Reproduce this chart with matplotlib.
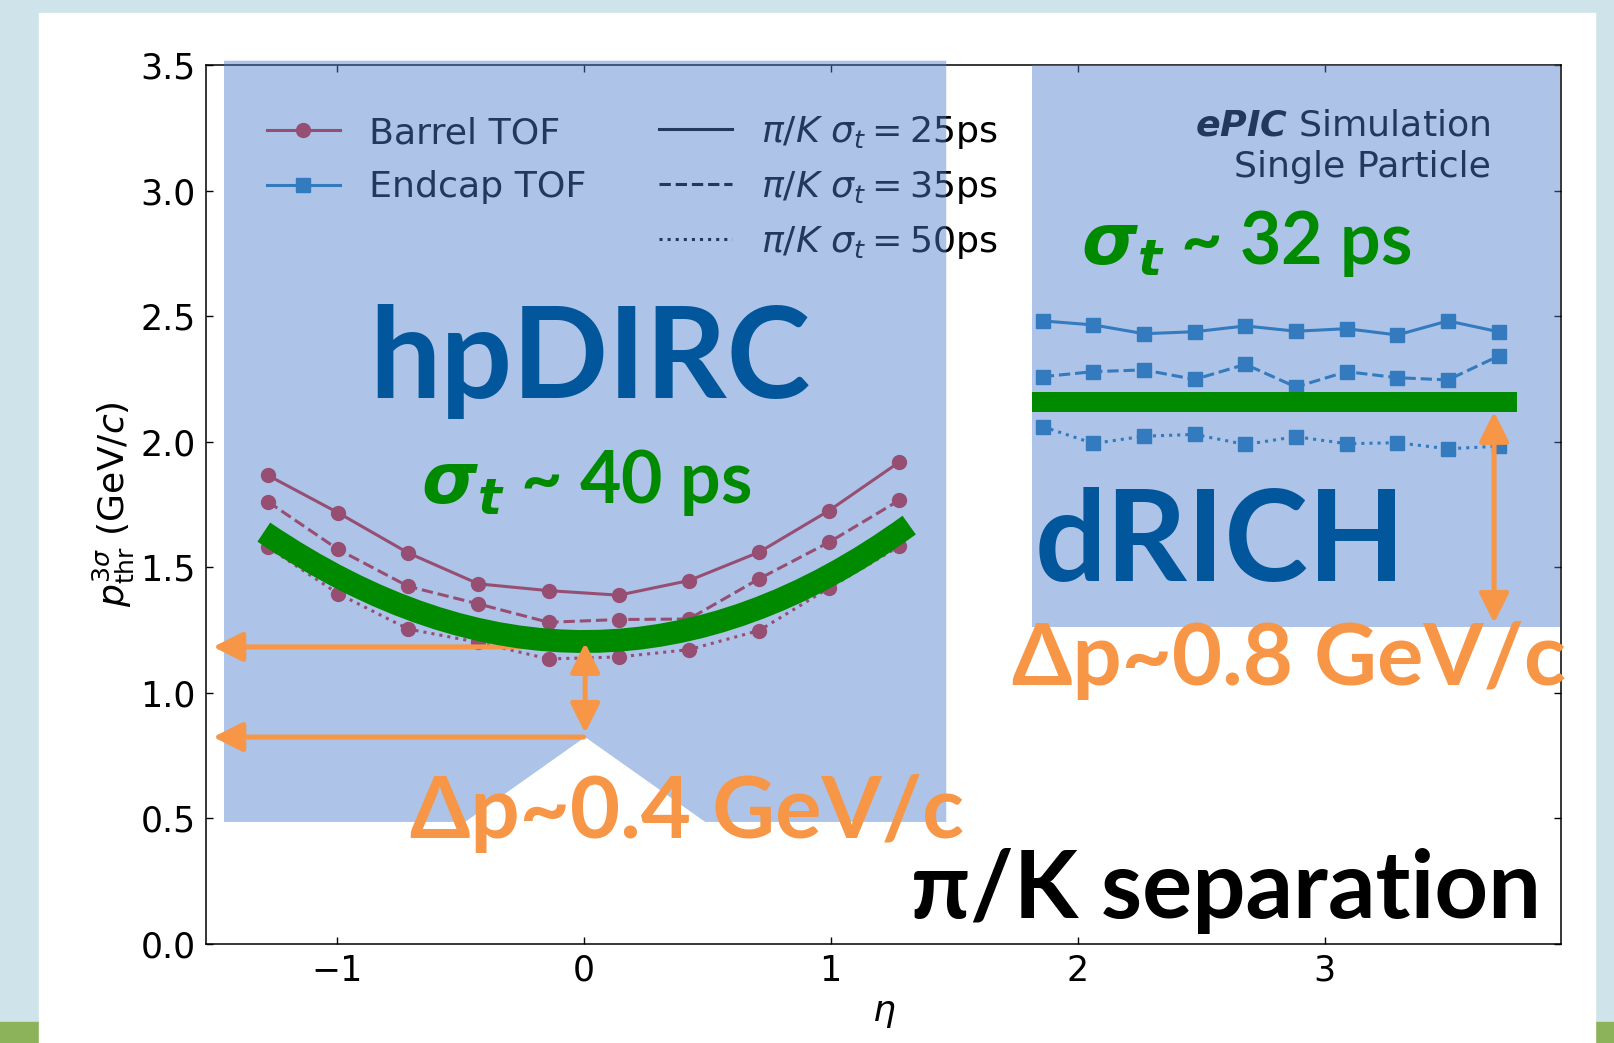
import numpy as np
import matplotlib
matplotlib.use('Agg')
import matplotlib.pyplot as plt
from matplotlib.patches import Rectangle, Polygon, PathPatch, FancyArrowPatch
from matplotlib.path import Path
from matplotlib.lines import Line2D

# ---------------- data ----------------
barrel_eta = [-1.278, -0.994, -0.710, -0.426, -0.142, 0.142, 0.426, 0.710, 0.994, 1.278]
barrel_25ps = [1.866, 1.717, 1.557, 1.434, 1.407, 1.389, 1.447, 1.560, 1.726, 1.919]
barrel_35ps = [1.761, 1.571, 1.424, 1.354, 1.281, 1.292, 1.294, 1.454, 1.600, 1.767]
barrel_50ps = [1.580, 1.395, 1.254, 1.201, 1.135, 1.143, 1.172, 1.248, 1.418, 1.584]

endcap_eta = [1.859, 2.064, 2.269, 2.474, 2.679, 2.884, 3.089, 3.294, 3.499, 3.704]
endcap_25ps = [2.481, 2.465, 2.430, 2.438, 2.461, 2.440, 2.450, 2.425, 2.481, 2.438]
endcap_35ps = [2.259, 2.279, 2.286, 2.248, 2.308, 2.218, 2.279, 2.255, 2.246, 2.341]
endcap_50ps = [2.060, 1.993, 2.022, 2.029, 1.989, 2.020, 1.992, 1.996, 1.972, 1.982]

style_labels = [r'$\pi/K\ \sigma_t = 25$ps', r'$\pi/K\ \sigma_t = 35$ps', r'$\pi/K\ \sigma_t = 50$ps']
x_ticks = [-1, 0, 1, 2, 3]
y_ticks = [0.0, 0.5, 1.0, 1.5, 2.0, 2.5, 3.0, 3.5]

# ---------------- style ----------------
W, H = 1614, 1043
C_BARREL = '#d62728'
C_ENDCAP = '#1f77b4'
C_GREEN = '#008a00'
C_ORANGE = '#f79646'
C_DBLUE = '#02569b'
C_OVER = '#4c7ecc'
FS = 25
LFS = 26.2

fig = plt.figure(figsize=(W / 100, H / 100), dpi=100, facecolor='#cfe4ea')
fig.add_artist(Rectangle((0, 0), 1, 21 / H, transform=fig.transFigure,
                         color='#8db35a', zorder=-11))
fig.add_artist(Rectangle((39 / W, 0), (1595 - 39) / W, (H - 13) / H,
                         transform=fig.transFigure, color='white', zorder=-10))

pos = [206.5 / W, (H - 944) / H, (1560.5 - 206.5) / W, (944 - 65) / H]
ax = fig.add_axes(pos)
ax.set_facecolor('white')
ax.set_xlim(-1.527, 3.955)
ax.set_ylim(0, 3.5)
ax.set_xticks(x_ticks)
ax.set_yticks(y_ticks)
ax.set_yticklabels([f'{v:.1f}' for v in y_ticks])
ax.set_xticklabels([f'{v:d}' if v >= 0 else '\u2212' + str(-v) for v in x_ticks])
ax.tick_params(direction='in', top=True, right=True, length=5, width=1,
               labelsize=FS, pad=7)
ax.tick_params(axis='y', pad=8)
for s in ax.spines.values():
    s.set_linewidth(1.1)
ax.set_xlabel(r'$\eta$', fontsize=26, labelpad=6)
ax.set_ylabel(r'$p_{\mathrm{thr}}^{3\sigma}$ (GeV/$c$)', fontsize=26, labelpad=2.5)

lw = 2.2
ms = 10
for vals, ls in zip([barrel_25ps, barrel_35ps, barrel_50ps], ['-', '--', ':']):
    ax.plot(barrel_eta, vals, ls=ls, color=C_BARREL, lw=lw, marker='o', ms=ms)
for vals, ls in zip([endcap_25ps, endcap_35ps, endcap_50ps], ['-', '--', ':']):
    ax.plot(endcap_eta, vals, ls=ls, color=C_ENDCAP, lw=lw, marker='s', ms=ms)

h1 = [Line2D([], [], color=C_BARREL, lw=lw, marker='o', ms=ms),
      Line2D([], [], color=C_ENDCAP, lw=lw, marker='s', ms=ms)]
leg1 = ax.legend(h1, ['Barrel TOF', 'Endcap TOF'], loc='upper left',
                 bbox_to_anchor=(267 / W, 1 - 116 / H), bbox_transform=fig.transFigure,
                 frameon=False, fontsize=LFS, handlelength=2.0, handletextpad=0.8,
                 borderpad=0, borderaxespad=0, labelspacing=0.56)
ax.add_artist(leg1)
h2 = [Line2D([], [], color='black', lw=lw, ls=ls) for ls in ['-', '--', ':']]
ax.legend(h2, style_labels, loc='upper left',
          bbox_to_anchor=(659 / W, 1 - 114 / H), bbox_transform=fig.transFigure,
          frameon=False, fontsize=LFS, handlelength=2.0, handletextpad=0.8,
          borderpad=0, borderaxespad=0, labelspacing=0.49)

ax.text(3.672, 3.219, r'$\mathbfit{ePIC}$ Simulation', fontsize=LFS, ha='right', va='baseline')
ax.text(3.672, 3.056, 'Single Particle', fontsize=LFS, ha='right', va='baseline')

# ---------------- overlay (slide annotations) ----------------
ax2 = fig.add_axes(pos, zorder=5)
ax2.set_xlim(ax.get_xlim())
ax2.set_ylim(ax.get_ylim())
ax2.axis('off')
ax2.patch.set_alpha(0)

rect1 = Polygon([(-1.456, 0.486), (-1.456, 3.517), (1.468, 3.517), (1.468, 0.486),
                 (0.492, 0.486), (0.006, 0.824), (-0.480, 0.486)], closed=True,
                facecolor=C_OVER, alpha=0.46, edgecolor='none', clip_on=False, zorder=1)
ax2.add_patch(rect1)
rect2 = Rectangle((1.817, 1.262), 3.955 - 1.817, 3.5 - 1.262, facecolor=C_OVER,
                  alpha=0.46, edgecolor='none', clip_on=False, zorder=1)
ax2.add_patch(rect2)

curve = Path([(-1.295, 1.640), (0.034, 0.755), (1.318, 1.668)],
             [Path.MOVETO, Path.CURVE3, Path.CURVE3])
ax2.add_patch(PathPatch(curve, fill=False, edgecolor=C_GREEN, lw=16.5,
                        capstyle='butt', zorder=3, clip_on=False))
ax2.plot([1.815, 3.780], [2.157, 2.157], color=C_GREEN, lw=14.4,
         solid_capstyle='butt', zorder=3, clip_on=False)


def arrow(p0, p1, style, z):
    a = FancyArrowPatch(p0, p1, arrowstyle=style, mutation_scale=20,
                        color=C_ORANGE, lw=3.6, shrinkA=0, shrinkB=0,
                        zorder=z, clip_on=False)
    ax2.add_patch(a)


arrow((0.006, 1.183), (-1.500, 1.183), '-|>,head_length=0.9,head_width=0.45', 2)
arrow((0.000, 0.824), (-1.500, 0.824), '-|>,head_length=0.9,head_width=0.45', 2)
arrow((0.006, 0.840), (0.006, 1.199), '<|-|>,head_length=0.9,head_width=0.45', 4)
arrow((3.686, 1.278), (3.686, 2.119), '<|-|>,head_length=0.9,head_width=0.45', 4)

big = dict(family=['Lato', 'DejaVu Sans'], weight='bold', ha='left', va='baseline', zorder=5)
ax2.text(-0.870, 2.174, 'hpDIRC', fontsize=91, color=C_DBLUE, **big)
ax2.text(1.826, 1.444, 'dRICH', fontsize=91, color=C_DBLUE, **big)
ax2.text(-0.660, 1.756, r'$\mathbfit{\sigma_t}$ ~ 40 ps', fontsize=51.5, color=C_GREEN, **big)
ax2.text(2.012, 2.708, r'$\mathbfit{\sigma_t}$ ~ 32 ps', fontsize=51.5, color=C_GREEN, **big)
ax2.text(-0.705, 0.422, '\u0394p~0.4 GeV/c', fontsize=62.5, color=C_ORANGE, **big)
ax2.text(1.736, 1.031, '\u0394p~0.8 GeV/c', fontsize=62.5, color=C_ORANGE, **big)
ax2.text(1.326, 0.1035, '\u03c0/K separation', fontsize=67.5, color='black', **big)

fig.savefig('out.png', dpi=100, facecolor=fig.get_facecolor())
